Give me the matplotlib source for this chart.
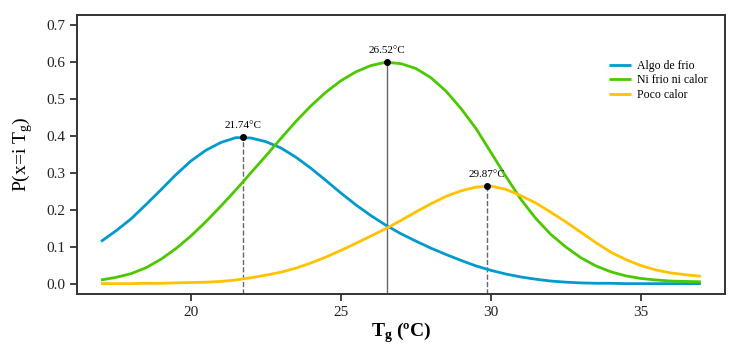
import matplotlib
matplotlib.use("Agg")
import matplotlib.pyplot as plt
import numpy as np

plt.rcParams['font.family'] = ['Liberation Serif', 'DejaVu Serif']
plt.rcParams['mathtext.fontset'] = 'custom'
plt.rcParams['mathtext.rm'] = 'Liberation Serif'
plt.rcParams['mathtext.bf'] = 'Liberation Serif:bold'

# temperature grid (ºC)
tg = [17, 17.5, 18, 18.5, 19, 19.5, 20, 20.5, 21, 21.5, 22, 22.5, 23, 23.5,
      24, 24.5, 25, 25.5, 26, 26.5, 27, 27.5, 28, 28.5, 29, 29.5, 30, 30.5,
      31, 31.5, 32, 32.5, 33, 33.5, 34, 34.5, 35, 35.5, 36, 36.5, 37]

algo_frio = [0.114, 0.143, 0.175, 0.214, 0.254, 0.295, 0.332, 0.361, 0.382, 0.395,
             0.394, 0.384, 0.367, 0.342, 0.312, 0.279, 0.245, 0.213, 0.184, 0.158,
             0.135, 0.115, 0.096, 0.079, 0.063, 0.048, 0.036, 0.026, 0.018, 0.012,
             0.007, 0.004, 0.002, 0.001, 0.001, 0.000, 0.000, 0.000, 0.000, 0.000, 0.000]

ni_frio = [0.010, 0.017, 0.027, 0.043, 0.066, 0.095, 0.129, 0.168, 0.210, 0.254,
           0.300, 0.346, 0.393, 0.439, 0.481, 0.518, 0.549, 0.573, 0.590, 0.599,
           0.595, 0.582, 0.557, 0.521, 0.474, 0.420, 0.355, 0.290, 0.228, 0.176,
           0.133, 0.099, 0.070, 0.048, 0.032, 0.021, 0.014, 0.010, 0.007, 0.006, 0.005]

poco_calor = [0.000, 0.000, 0.000, 0.001, 0.001, 0.002, 0.003, 0.004, 0.006, 0.010,
              0.016, 0.023, 0.031, 0.042, 0.056, 0.072, 0.090, 0.109, 0.129, 0.149,
              0.171, 0.194, 0.216, 0.236, 0.251, 0.261, 0.264, 0.255, 0.238, 0.218,
              0.193, 0.167, 0.139, 0.111, 0.085, 0.065, 0.049, 0.037, 0.029, 0.024, 0.020]

labels = ["Algo de frio", "Ni frio ni calor", "Poco calor"]
colors = ["#009ACD", "#4CC800", "#FFC200"]

peak_x = [21.74, 26.52, 29.87]
peak_y = [0.397, 0.600, 0.265]
peak_style = ["--", "-", "--"]

fig = plt.figure(figsize=(7.37, 3.54), dpi=100)
ax = fig.add_axes([0.1045, 0.1695, 0.879, 0.7895])

ymin = -0.028
for ys, c, lab in zip([algo_frio, ni_frio, poco_calor], colors, labels):
    ax.plot(tg, ys, color=c, lw=2, label=lab, solid_capstyle='butt',
            solid_joinstyle='round')

for px, py, ls in zip(peak_x, peak_y, peak_style):
    ax.plot([px, px], [ymin, py], color="#666666", lw=1, ls=ls, zorder=1)
    ax.plot(px, py, 'o', color='black', ms=4, zorder=5)
    ax.text(px, py + 0.018, "%.2f°C" % px, ha='center', va='bottom', fontsize=8)

ax.set_xlim(16.2, 37.8)
ax.set_ylim(ymin, 0.728)
ax.set_xticks([20, 25, 30, 35])
ax.set_yticks(np.arange(0, 0.71, 0.1))
ax.set_yticklabels(["%.1f" % v for v in np.arange(0, 0.71, 0.1)])
ax.tick_params(direction='out', length=5, width=1.2, labelsize=11, colors='#222222')
for s in ax.spines.values():
    s.set_linewidth(1.4)
    s.set_color('#333333')

ax.set_xlabel(r"T$_{\mathbf{g}}$ (ºC)", fontsize=14, fontweight='bold', labelpad=1)
ax.set_ylabel(r"P(x=i T$_{\mathrm{g}}$)", fontsize=14, labelpad=8)

ax.legend(loc='upper right', bbox_to_anchor=(0.99, 0.875), frameon=False,
          fontsize=8.5, handlelength=1.9, handletextpad=0.5, labelspacing=0.2)

fig.savefig("out.png", dpi=100)
